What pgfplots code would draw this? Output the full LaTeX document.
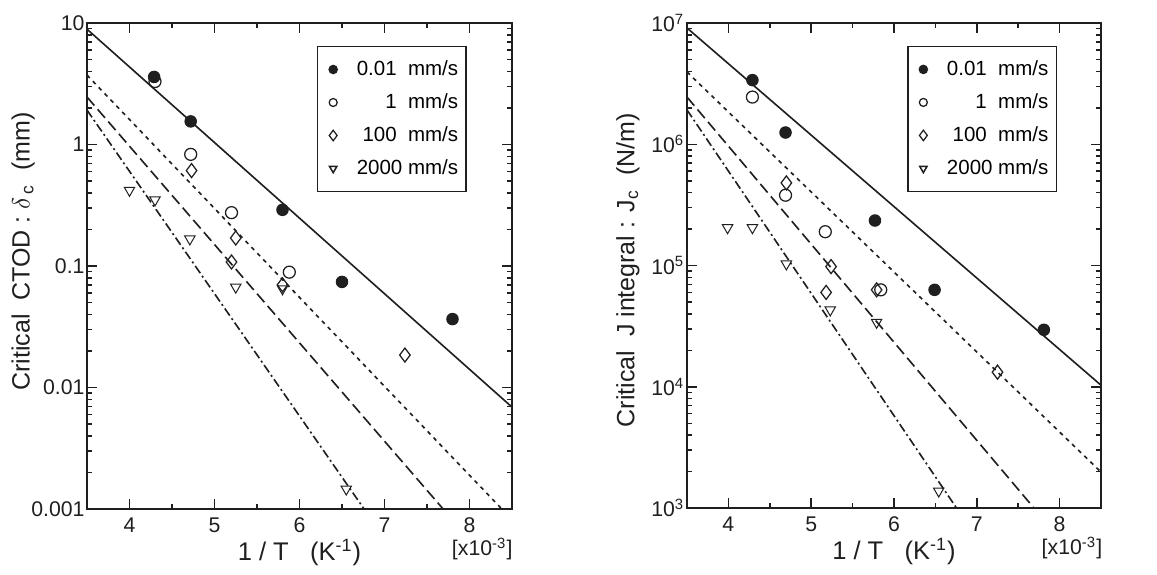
\documentclass[border=0pt]{standalone}
\usepackage{pgfplots}
\pgfplotsset{compat=1.18}
\usepackage{fontspec}
\setmainfont{Liberation Sans}

\definecolor{ink}{gray}{0.12}

\pgfplotsset{
  every axis/.append style={
    scale only axis, clip mode=individual,
    xmin=3.5, xmax=8.5,
    xtick={4,5,6,7,8}, xticklabels={4,5,6,7,8},
    minor xtick={4.5,5.5,6.5,7.5},
    tick align=inside, major tick length=4pt, minor tick length=2pt,
    axis line style={line width=0.8pt, ink}, tick style={line width=0.6pt, ink},
    tick label style={font=\fontsize{8.5}{10}\selectfont, ink},
    yticklabel style={inner xsep=0.8pt},
    xlabel style={font=\fontsize{10.2}{12}\selectfont, ink},
    ylabel style={font=\fontsize{10}{12}\selectfont, ink, anchor=center},
    legend cell align=right,
    legend style={draw=ink, line width=0.6pt, font=\fontsize{8.2}{10}\selectfont,
      anchor=north east, inner xsep=2.2pt, inner ysep=3.9pt, row sep=2.7pt, column sep=0pt,
      nodes={inner xsep=1pt, inner ysep=1.5pt, text height=6pt, text depth=1.5pt}},
  },
  linefit/.style={ink, line width=0.65pt, forget plot},
  mk/.style={only marks, ink, mark options={line width=0.5pt},
    legend image code/.code={\draw[##1, mark size=#1] plot coordinates {(0pt,0pt)};
      \path[draw=none, fill=none] (-4pt,-2pt) rectangle (4pt,2pt);}},
  sa/.style={mk=1.6pt, mark=*, mark size=2.3pt, mark options={fill=ink}},
  sb/.style={mk=1.6pt, mark=o, mark size=2.4pt},
  sc/.style={mk=2.1pt, mark=diamond, mark size=2.8pt},
  sd/.style={mk=1.7pt, mark=triangle, mark size=2.4pt, mark options={rotate=180}},
}
\newcommand{\lt}[1]{\makebox[45pt][r]{#1}}

\begin{document}
\begin{tikzpicture}
\path (0,0) rectangle (462.8pt,226.8pt);

% ---- left: critical CTOD
\begin{axis}[ymode=log,
  at={(34.8pt,23.2pt)}, anchor=south west,
  width=170pt, height=194.4pt,
  ymin=0.001, ymax=10,
  ytick={0.001,0.01,0.1,1,10},
  yticklabels={0.001,0.01,0.1,1,10},
  ylabel={Critical\ \ CTOD : $\delta$\textsubscript{\,c}\ \ (mm)},
  ylabel style={at={(axis description cs:-0.15,0.53)}},
  xlabel={1 / T\ \ \ (K\textsuperscript{-1})},
  xlabel style={at={(axis description cs:0.5,-0.09)}, anchor=center},
  legend style={at={(axis description cs:0.894,0.953)}},
]
\addplot[linefit] coordinates {(3.5,8.9) (8.5,0.0069)};
\addplot[linefit, dash pattern=on 1.6pt off 1.8pt] coordinates {(3.5,3.73) (8.38,0.001)};
\addplot[linefit, dash pattern=on 4.5pt off 2pt] coordinates {(3.5,2.46) (7.69,0.001)};
\addplot[linefit, dash pattern=on 3.5pt off 1.3pt on 0.8pt off 1.3pt] coordinates {(3.5,1.92) (6.76,0.001)};

\addplot[sa] coordinates {(4.29,3.6) (4.72,1.55) (5.80,0.29) (6.50,0.074) (7.80,0.0366)};
\addplot[sb] coordinates {(4.30,3.3) (4.72,0.83) (5.20,0.275) (5.88,0.089)};
\addplot[sc] coordinates {(4.73,0.61) (5.25,0.17) (5.20,0.108) (5.80,0.07) (7.24,0.0185)};
\addplot[sd] coordinates {(4.00,0.42) (4.30,0.35) (4.71,0.167) (5.25,0.067) (5.80,0.065) (6.55,0.00146)};
\legend{\lt{0.01\ \ mm/s}, \lt{1\ \ mm/s}, \lt{100\ \ mm/s}, \lt{2000 mm/s}}
\node[font=\fontsize{8.5}{10}\selectfont, ink] at (axis description cs:0.93,-0.082) {[x10\textsuperscript{-3}]};
\end{axis}

% ---- right: critical J integral
\begin{axis}[ymode=log,
  at={(274.8pt,23.6pt)}, anchor=south west,
  width=165.6pt, height=194pt,
  ymin=1e3, ymax=1e7,
  ytick={1e3,1e4,1e5,1e6,1e7},
  yticklabels={10\textsuperscript{3},10\textsuperscript{4},10\textsuperscript{5},10\textsuperscript{6},10\textsuperscript{7}},
  ylabel={Critical\ \ J integral : J\textsubscript{c}\ \ (N/m)},
  ylabel style={at={(axis description cs:-0.143,0.49)}},
  xlabel={1 / T\ \ \ (K\textsuperscript{-1})},
  xlabel style={at={(axis description cs:0.5,-0.09)}, anchor=center},
  legend style={at={(axis description cs:0.894,0.953)}},
]
\addplot[linefit] coordinates {(3.5,9.1e6) (8.5,1.03e4)};
\addplot[linefit, dash pattern=on 1.6pt off 1.8pt] coordinates {(3.5,3.95e6) (8.5,1.98e3)};
\addplot[linefit, dash pattern=on 4.5pt off 2pt] coordinates {(3.5,2.45e6) (7.69,1000)};
\addplot[linefit, dash pattern=on 3.5pt off 1.3pt on 0.8pt off 1.3pt] coordinates {(3.5,1.92e6) (6.755,1000)};

\addplot[sa] coordinates {(4.29,3.38e6) (4.69,1.25e6) (5.77,2.35e5) (6.49,6.3e4) (7.81,2.95e4)};
\addplot[sb] coordinates {(4.29,2.45e6) (4.69,3.8e5) (5.17,1.9e5) (5.84,6.3e4)};
\addplot[sc] coordinates {(4.70,4.8e5) (5.24,9.8e4) (5.18,6.0e4) (5.79,6.3e4) (7.25,1.32e4)};
\addplot[sd] coordinates {(3.99,2.05e5) (4.29,2.05e5) (4.70,1.03e5) (5.23,4.3e4) (5.79,3.4e4) (6.54,1.38e3)};
\legend{\lt{0.01\ \ mm/s}, \lt{1\ \ mm/s}, \lt{100\ \ mm/s}, \lt{2000 mm/s}}
\node[font=\fontsize{8.5}{10}\selectfont, ink] at (axis description cs:0.93,-0.082) {[x10\textsuperscript{-3}]};
\end{axis}
\end{tikzpicture}
\end{document}
